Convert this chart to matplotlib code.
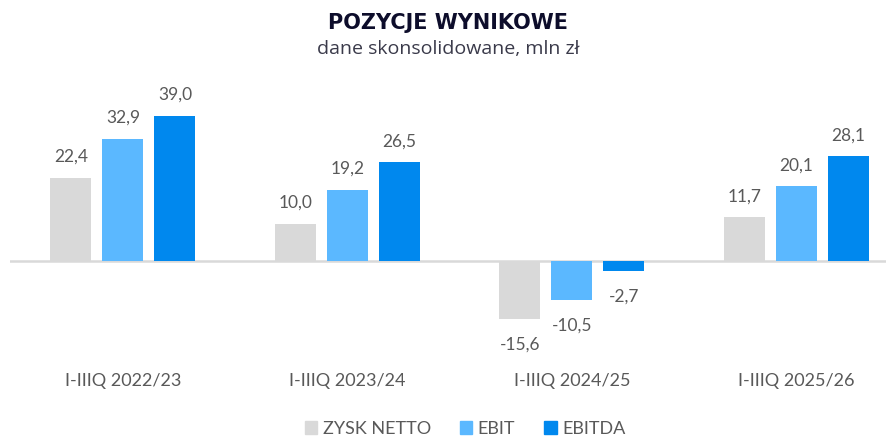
import matplotlib
matplotlib.use("Agg")
import matplotlib.pyplot as plt
from matplotlib.patches import Patch
import numpy as np

categories = ["I-IIIQ 2022/23", "I-IIIQ 2023/24", "I-IIIQ 2024/25", "I-IIIQ 2025/26"]
zysk_netto = [22.4, 10.0, -15.6, 11.7]
ebit = [32.9, 19.2, -10.5, 20.1]
ebitda = [39.0, 26.5, -2.7, 28.1]
series_names = ["ZYSK NETTO", "EBIT", "EBITDA"]
colors = ["#D9D9D9", "#5BB8FF", "#0088EE"]

plt.rcParams['font.family'] = ['Lato', 'DejaVu Sans']

W, H = 896, 437
fig = plt.figure(figsize=(W/100, H/100), dpi=100)
ax_left, ax_right = 10, 886
ax_top, ax_bot = 100, 340
ax = fig.add_axes([ax_left/W, 1-ax_bot/H, (ax_right-ax_left)/W, (ax_bot-ax_top)/H])

x = np.arange(len(categories))
step = 0.2316
width = 0.183
text_col = "#595959"
for i, (vals, col) in enumerate(zip([zysk_netto, ebit, ebitda], colors)):
    xs = x + (i-1)*step
    ax.bar(xs, vals, width=width, color=col, zorder=2)
    for xi, v in zip(xs, vals):
        off = 21 if v >= 0 else -26
        ax.annotate(f"{v:.1f}".replace(".", ","), (xi, v), xytext=(0, off),
                    textcoords="offset pixels", ha="center", va="center",
                    fontsize=12.5, color=text_col)

ax.axhline(0, color="#D9D9D9", lw=1.8, zorder=1)
ax.set_xlim(-0.503, 3.399)
ppu = 3.72
ax.set_ylim(-(ax_bot-261)/ppu, (261-ax_top)/ppu)
ax.axis("off")

trans = matplotlib.transforms.blended_transform_factory(ax.transData, fig.transFigure)
for xi, c in zip(x, categories):
    ax.text(xi, 1-381/H, c, transform=trans, ha="center", va="center",
            fontsize=13, color=text_col)

fig.text(0.5, 1-23/H, "POZYCJE WYNIKOWE", ha="center", va="center", fontsize=15,
         fontweight="bold", color="#0D0D2B", family=["DejaVu Sans"])
fig.text(0.5, 1-49/H, "dane skonsolidowane, mln zł", ha="center", va="center", fontsize=14,
         color="#3A3A4A", family=["Open Sans", "DejaVu Sans"])

handles = [Patch(color=c) for c in colors]
fig.legend(handles, series_names, loc="center", bbox_to_anchor=(465/W, 1-429/H), ncol=3,
           frameon=False, fontsize=13, handlelength=0.7, handleheight=0.7,
           handletextpad=0.3, columnspacing=1.6, labelcolor=text_col)

fig.savefig("out.png", dpi=100)
